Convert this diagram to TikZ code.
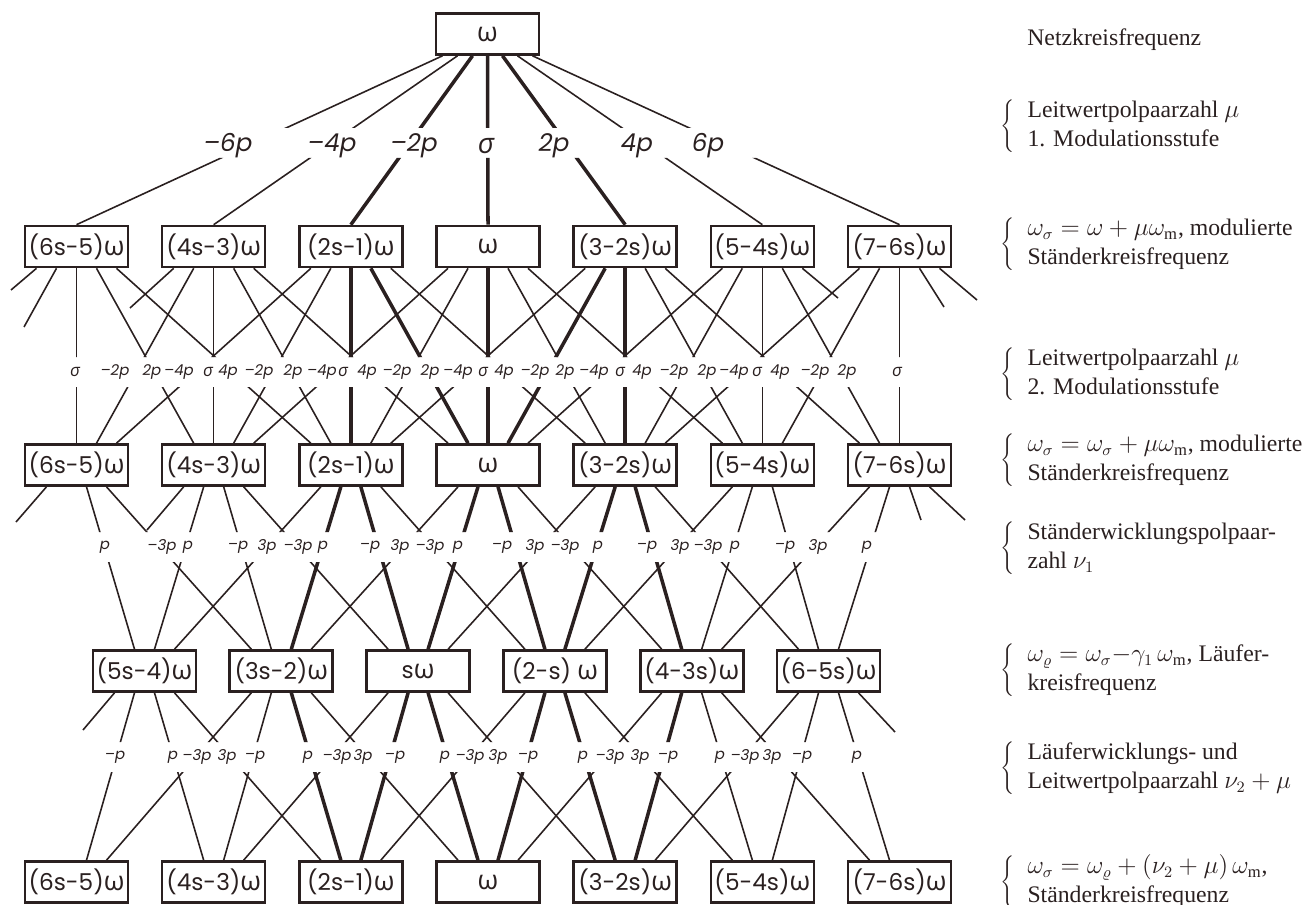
\documentclass[tikz,border=0pt]{standalone}
\usepackage{fontspec}
\setmainfont{Liberation Serif}
\newfontfamily\geo{Poppins}
\newfontfamily\grk[Scale=1.15]{Open Sans}
\usetikzlibrary{calc}
\definecolor{ink}{HTML}{2A2020}
\newcommand{\om}{{\grk ω}}
\newcommand{\sg}{{\grk σ}}
\newcommand{\brc}[2]{$\left\{\begin{tabular}{@{\hspace{2.6mm}}l@{}}#1\\#2\end{tabular}\right.$}

\tikzset{
  box/.style={draw=ink, line width=1.5pt, minimum width=20.6mm, minimum height=8.2mm, inner sep=0pt, text=ink, font=\geo\fontsize{13.2}{15}\selectfont},
  con/.style={draw=ink, line width=0.9pt},
  main/.style={draw=ink, line width=2pt},
  w0/.style={con}, w1/.style={main},
  biglab/.style={inner sep=0pt, text=ink, font=\geo\itshape\fontsize{14}{16}\selectfont},
  lab/.style={inner sep=0pt, text=ink, font=\geo\itshape\fontsize{8.5}{10}\selectfont},
  note/.style={anchor=west, inner sep=0pt, text=ink, font=\fontsize{13.5}{16.5}\selectfont},
}

\begin{document}
\begin{tikzpicture}[x=0.2mm, y=-0.2mm]
\useasboundingbox (0,0) rectangle (1314,905);

% frequency boxes
\node[box] (top) at (487.5,34) {\om};
\foreach \r/\y in {2/246.5, 3/465, 5/882}
  \foreach \tx [count=\k] in {{(6s-5)\om},{(4s-3)\om},{(2s-1)\om},{\om},{(3-2s)\om},{(5-4s)\om},{(7-6s)\om}}
    \node[box] (b\r-\k) at ({76.5+137.17*(\k-1)},\y) {\tx};
\foreach \tx [count=\m] in {{(5s-4)\om},{(3s-2)\om},{s\om},{(2-s) \om},{(4-3s)\om},{(6-5s)\om}}
  \node[box] (b4-\m) at ({144.5+136.8*(\m-1)},671) {\tx};

% connectors, cut where the labels sit
\begin{scope}
  \clip (0,0) rectangle (990,128) (0,158) rectangle (990,357) (0,387) rectangle (990,532)
        (0,562) rectangle (990,742) (0,772) rectangle (990,905);
  % 1. Modulationsstufe
  \foreach \k/\w in {1/con,2/con,3/main,4/main,5/main,6/con,7/con}
    \draw[\w] ($(top.south)+(15*\k-60,0)$) -- (b2-\k.north);
  % 2. Modulationsstufe
  \foreach \k in {1,...,7}
    \foreach \j in {-2,...,2} {
      \pgfmathtruncatemacro\tg{\k+\j}
      \pgfmathtruncatemacro\hv{and(and(\k>2,\k<6),or(\j==0,\tg==4))}
      \ifnum\tg>0 \ifnum\tg<8
        \draw[w\hv] ($(b2-\k.south)+(20*\j,0)$) -- ($(b3-\tg.north)-(20*\j,0)$);
      \fi\fi
    }
  \foreach \k/\j/\x/\y [count=\n] in {1/-2/11/290, 1/-1/24/327, 2/-2/130/308, 6/2/838/298, 7/1/944/307, 7/2/977/300} {
    \coordinate (e2-\n) at (\x,\y);
    \draw[con] ($(b2-\k.south)+(20*\j,0)$) -- (e2-\n);
  }
  % Staenderwicklung
  \foreach \k in {1,...,7}
    \foreach \i in {-3,-1,1,3} {
      \pgfmathtruncatemacro\tg{\k+(\i-1)/2}
      \pgfmathtruncatemacro\hv{and(and(\k>2,\k<6),abs(\i)==1)}
      \ifnum\tg>0 \ifnum\tg<7
        \draw[w\hv] ($(b3-\k.south)+(10*\i,0)$) -- ($(b4-\tg.north)-(10*\i,0)$);
      \fi\fi
    }
  \foreach \k/\i/\x/\y [count=\n] in {1/-3/16/522, 2/-3/147/530, 7/1/921/520, 7/3/965/520} {
    \coordinate (e3-\n) at (\x,\y);
    \draw[con] ($(b3-\k.south)+(10*\i,0)$) -- (e3-\n);
  }
  % Laeuferwicklung
  \foreach \m in {1,...,6}
    \foreach \i in {-3,-1,1,3} {
      \pgfmathtruncatemacro\tg{\m+(\i+1)/2}
      \pgfmathtruncatemacro\hv{and(and(\tg>2,\tg<6),abs(\i)==1)}
      \ifnum\tg>0 \ifnum\tg<8
        \draw[w\hv] ($(b4-\m.south)+(10*\i,0)$) -- ($(b5-\tg.north)-(10*\i,0)$);
      \fi\fi
    }
  \foreach \m/\i/\x/\y [count=\n] in {1/-3/83/730, 6/3/895/732} {
    \coordinate (e4-\n) at (\x,\y);
    \draw[con] ($(b4-\m.south)+(10*\i,0)$) -- (e4-\n);
  }
\end{scope}

% pole pair labels
\foreach \x/\tx [count=\n] in {228/–6p, 332/–4p, 414/–2p, 486/\sg, 554/2p, 637/4p, 708/6p}
  \node[biglab] (l1-\n) at (\x,146) {\tx};
\foreach \x/\tx [count=\n] in {75/\sg, 115/–2p, 152/2p, 179/–4p, 208/\sg, 228/4p, 259/–2p, 293/2p,
    322/–4p, 343/\sg, 367/4p, 397/–2p, 430/2p, 458/–4p, 483/\sg, 504/4p, 535/–2p, 565/2p,
    594/–4p, 620/\sg, 642/4p, 674/–2p, 707/2p, 734/–4p, 757/\sg, 780/4p, 815/–2p, 847/2p, 897/\sg}
  \node[lab] (l2-\n) at (\x,372) {\tx};
\foreach \x/\tx [count=\n] in {105/p, 162/–3p, 188/p, 238/–p, 267/3p, 298/–3p, 323/p, 370/–p,
    400/3p, 430/–3p, 458/p, 502/–p, 535/3p, 565/–3p, 598/p, 647/–p, 680/3p, 708/–3p, 735/p,
    785/–p, 818/3p, 867/p}
  \node[lab] (l3-\n) at (\x,547) {\tx};
\foreach \x/\tx [count=\n] in {115/–p, 173/p, 197/–3p, 227/3p, 255/–p, 308/p, 337/–3p, 363/3p,
    395/–p, 445/p, 470/–3p, 498/3p, 528/–p, 583/p, 610/–3p, 640/3p, 668/–p, 720/p, 745/–3p,
    772/3p, 802/–p, 857/p}
  \node[lab] (l4-\n) at (\x,757) {\tx};

% legend
\node[note] (n0) at (1027,40) {Netzkreisfrequenz};
\node[note] (n1) at (1000,126) {\brc{Leitwertpolpaarzahl $\mu$}{1. Modulationsstufe}};
\node[note] (n2) at (1000,244) {\brc{$\omega_\sigma=\omega+\mu\omega_{\mathrm m}$, modulierte}{Ständerkreisfrequenz}};
\node[note] (n3) at (1000,374) {\brc{Leitwertpolpaarzahl $\mu$}{2. Modulationsstufe}};
\node[note] (n4) at (1000,460) {\brc{$\omega_\sigma=\omega_\sigma+\mu\omega_{\mathrm m}$, modulierte}{Ständerkreisfrequenz}};
\node[note] (n5) at (1000,548) {\brc{Ständerwicklungspolpaar-}{zahl $\nu_1$}};
\node[note] (n6) at (1000,670) {\brc{$\omega_\varrho=\omega_\sigma{-}\gamma_1\,\omega_{\mathrm m}$, Läufer-}{kreisfrequenz}};
\node[note] (n7) at (1000,768) {\brc{Läuferwicklungs- und}{Leitwertpolpaarzahl $\nu_2+\mu$}};
\node[note] (n8) at (1000,882) {\brc{$\omega_\sigma=\omega_\varrho+(\nu_2+\mu)\,\omega_{\mathrm m}$,}{Ständerkreisfrequenz}};
\end{tikzpicture}
\end{document}
